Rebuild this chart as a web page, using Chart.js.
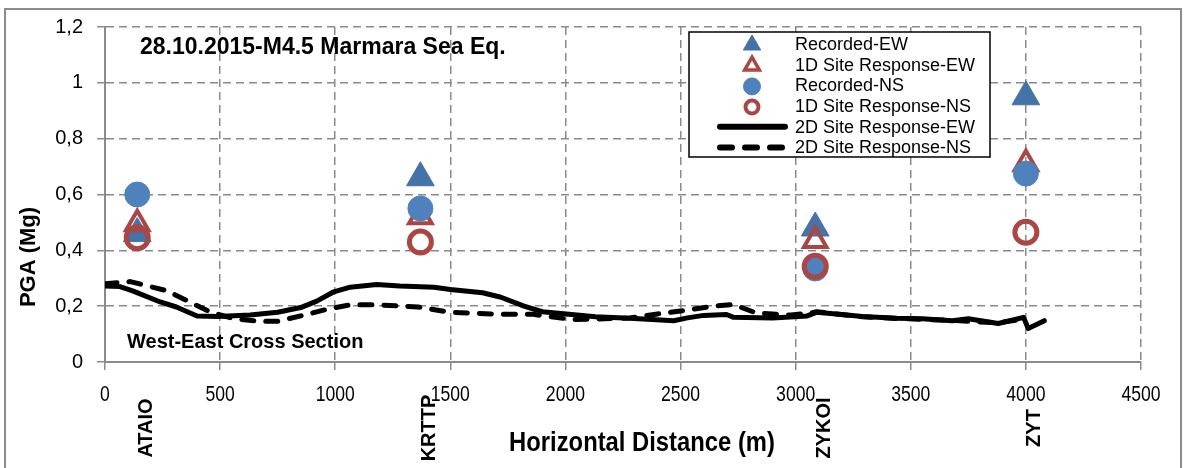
<!DOCTYPE html>
<html>
<head>
<meta charset="utf-8">
<script src="https://cdn.jsdelivr.net/npm/chart.js@4.4.0/dist/chart.umd.min.js"></script>
<style>
body { margin: 0; background: #fff; }
#wrap { width: 1186px; height: 468px; position: relative; }
</style>
</head>
<body>
<div id="wrap"><canvas id="pgaChart"></canvas></div>
<script>
// stations along the section (m) and their PGA values (g)
var stations = ['ATAIO', 'KRTTP', 'ZYKOI', 'ZYT'];
var stationDist = [140, 1370, 3085, 4000];
var recordedEW = [0.46, 0.66, 0.48, 0.95];
var siteEW1D = [0.495, 0.52, 0.435, 0.71];
var recordedNS = [0.60, 0.55, 0.335, 0.675];
var siteNS1D = [0.445, 0.43, 0.343, 0.465];

// 2D site response along the cross section
var ew2dDist = [0, 65, 120, 240, 310, 400, 490, 630, 750, 850, 920, 990, 1065, 1180, 1280, 1430, 1500, 1640, 1720, 1820, 1900, 2130, 2280, 2470, 2530, 2600, 2700, 2730, 2900, 3050, 3090, 3200, 3290, 3440, 3550, 3680, 3750, 3880, 3990, 4010, 4080];
var ew2dPga = [0.272, 0.27, 0.255, 0.215, 0.197, 0.165, 0.163, 0.168, 0.178, 0.195, 0.218, 0.25, 0.268, 0.278, 0.272, 0.268, 0.26, 0.248, 0.232, 0.2, 0.18, 0.162, 0.157, 0.148, 0.158, 0.167, 0.17, 0.16, 0.158, 0.165, 0.178, 0.17, 0.163, 0.157, 0.155, 0.148, 0.155, 0.138, 0.16, 0.12, 0.148];
var ns2dDist = [0, 110, 270, 370, 460, 560, 670, 750, 850, 970, 1065, 1180, 1360, 1500, 1720, 1860, 1900, 2030, 2140, 2280, 2400, 2515, 2640, 2730, 2830, 2980, 3060, 3090, 3290, 3440, 3680, 3880, 3960];
var ns2dPga = [0.28, 0.288, 0.255, 0.214, 0.178, 0.155, 0.146, 0.146, 0.165, 0.19, 0.205, 0.205, 0.197, 0.178, 0.171, 0.171, 0.166, 0.152, 0.154, 0.158, 0.172, 0.184, 0.2, 0.206, 0.175, 0.168, 0.175, 0.18, 0.162, 0.156, 0.149, 0.14, 0.15];

var seriesNames = ['Recorded-EW', '1D Site Response-EW', 'Recorded-NS', '1D Site Response-NS', '2D Site Response-EW', '2D Site Response-NS'];

var blueDark = '#4572A7';
var blue = '#4F81BD';
var red = '#AA4643';

function toPoints(xs, ys) {
    return xs.map(function (x, i) { return { x: x, y: ys[i] }; });
}

var overlay = {
    id: 'overlay',
    beforeDraw: function (chart) {
        var ctx = chart.ctx;
        ctx.save();
        ctx.fillStyle = '#fff';
        ctx.fillRect(0, 0, chart.width, chart.height);
        ctx.strokeStyle = '#8c8c8c';
        ctx.lineWidth = 2;
        ctx.strokeRect(5, 9, chart.width - 10, chart.height);
        ctx.restore();
    },
    afterDraw: function (chart) {
        var ctx = chart.ctx;
        var xs = chart.scales.x;
        ctx.save();
        ctx.fillStyle = '#000';

        // x tick labels (narrow look)
        ctx.font = '22px "Liberation Sans", Arial, sans-serif';
        ctx.textAlign = 'center';
        ctx.textBaseline = 'middle';
        xs.ticks.forEach(function (t) {
            ctx.save();
            ctx.translate(xs.getPixelForValue(t.value), 395);
            ctx.scale(0.8, 1);
            ctx.fillText(String(t.value), 0, 0);
            ctx.restore();
        });

        // axis titles
        ctx.save();
        ctx.translate(642, 443);
        ctx.scale(0.85, 1);
        ctx.font = 'bold 28px "Liberation Sans", Arial, sans-serif';
        ctx.fillText('Horizontal Distance (m)', 0, 0);
        ctx.restore();

        ctx.save();
        ctx.translate(29, 257);
        ctx.rotate(-Math.PI / 2);
        ctx.font = 'bold 22px "Liberation Sans", Arial, sans-serif';
        ctx.fillText('PGA (Mg)', 0, 0);
        ctx.restore();

        // station names
        ctx.font = 'bold 20px "Liberation Sans", Arial, sans-serif';
        stations.forEach(function (name, i) {
            ctx.save();
            ctx.translate(xs.getPixelForValue(stationDist[i]) + 9, 428);
            ctx.rotate(-Math.PI / 2);
            ctx.fillText(name, 0, 0);
            ctx.restore();
        });

        // chart title and section note
        ctx.textAlign = 'left';
        ctx.textBaseline = 'alphabetic';
        ctx.font = 'bold 23px "Liberation Sans", Arial, sans-serif';
        ctx.fillText('28.10.2015-M4.5 Marmara Sea Eq.', 140, 54);
        ctx.font = 'bold 20px "Liberation Sans", Arial, sans-serif';
        ctx.fillText('West-East Cross Section', 127, 348);

        // legend
        var bx = 689, by = 32, bw = 301, bh = 125;
        ctx.fillStyle = '#fff';
        ctx.fillRect(bx, by, bw, bh);
        ctx.strokeStyle = '#000';
        ctx.lineWidth = 1.5;
        ctx.strokeRect(bx, by, bw, bh);
        var legendSizes = [10, 8.5, 8.5, 6.5];
        chart.data.datasets.forEach(function (ds, i) {
            var y = 44 + i * 20.7;
            ctx.save();
            if (ds.showLine) {
                ctx.strokeStyle = ds.borderColor;
                ctx.lineWidth = 6;
                ctx.lineCap = 'round';
                ctx.setLineDash(ds.borderDash ? [12, 13] : []);
                ctx.beginPath();
                ctx.moveTo(720, y);
                ctx.lineTo(785, y);
                ctx.stroke();
            } else {
                ctx.fillStyle = ds.backgroundColor;
                ctx.strokeStyle = ds.borderColor;
                ctx.lineWidth = ds.legendBorder;
                Chart.helpers.drawPoint(ctx, {
                    pointStyle: ds.pointStyle,
                    radius: legendSizes[i],
                    borderWidth: ds.legendBorder,
                    rotation: 0
                }, 752, y + 1);
            }
            ctx.restore();
            ctx.fillStyle = '#000';
            ctx.font = '18px "Liberation Sans", Arial, sans-serif';
            ctx.textBaseline = 'middle';
            ctx.fillText(ds.label, 795, y + 1);
        });
        ctx.restore();
    }
};

var ctxEl = document.getElementById('pgaChart');
var pgaChart = new Chart(ctxEl, {
    type: 'scatter',
    data: {
        datasets: [{
            label: seriesNames[0],
            data: toPoints(stationDist, recordedEW),
            pointStyle: 'triangle',
            pointRadius: 16,
            backgroundColor: blueDark,
            borderColor: blueDark,
            pointBorderWidth: 1,
            legendBorder: 1,
            order: 6
        }, {
            label: seriesNames[1],
            data: toPoints(stationDist, siteEW1D),
            pointStyle: 'triangle',
            pointRadius: 13,
            backgroundColor: 'rgba(0,0,0,0)',
            borderColor: red,
            pointBorderWidth: 4,
            legendBorder: 3.5,
            order: 5
        }, {
            label: seriesNames[2],
            data: toPoints(stationDist, recordedNS),
            pointStyle: 'circle',
            pointRadius: 12.5,
            backgroundColor: blue,
            borderColor: blue,
            pointBorderWidth: 1,
            legendBorder: 1,
            order: 4
        }, {
            label: seriesNames[3],
            data: toPoints(stationDist, siteNS1D),
            pointStyle: 'circle',
            pointRadius: 11,
            backgroundColor: 'rgba(0,0,0,0)',
            borderColor: red,
            pointBorderWidth: 5,
            legendBorder: 4,
            order: 3
        }, {
            label: seriesNames[4],
            data: toPoints(ew2dDist, ew2dPga),
            showLine: true,
            borderColor: '#000',
            borderWidth: 5,
            borderJoinStyle: 'round',
            borderCapStyle: 'round',
            pointRadius: 0,
            order: 2
        }, {
            label: seriesNames[5],
            data: toPoints(ns2dDist, ns2dPga),
            showLine: true,
            borderColor: '#000',
            borderWidth: 5,
            borderDash: [12, 12],
            borderJoinStyle: 'round',
            borderCapStyle: 'round',
            pointRadius: 0,
            order: 1
        }]
    },
    options: {
        responsive: true,
        maintainAspectRatio: false,
        animation: false,
        events: [],
        layout: {
            padding: { left: 0, top: 27, right: 45, bottom: 0 }
        },
        scales: {
            x: {
                type: 'linear',
                min: 0,
                max: 4500,
                ticks: { stepSize: 500, display: false },
                grid: { color: '#8a8a8a', lineWidth: 1.5, tickLength: 8 },
                border: { color: '#8a8a8a', width: 2, dash: [8, 5] },
                afterFit: function (scale) { scale.height = 106; }
            },
            y: {
                min: 0,
                max: 1.2,
                ticks: {
                    stepSize: 0.2,
                    color: '#000',
                    padding: 14,
                    font: { family: '"Liberation Sans", Arial, sans-serif', size: 20 },
                    callback: function (v) {
                        return (Math.round(v * 10) / 10).toString().replace('.', ',');
                    }
                },
                grid: { color: '#8a8a8a', lineWidth: 1.5, tickLength: 8 },
                border: { color: '#8a8a8a', width: 2, dash: [8, 5] },
                afterFit: function (scale) { scale.width = 105; }
            }
        },
        plugins: {
            legend: { display: false },
            tooltip: { enabled: false }
        }
    },
    plugins: [overlay]
});
</script>
</body>
</html>
